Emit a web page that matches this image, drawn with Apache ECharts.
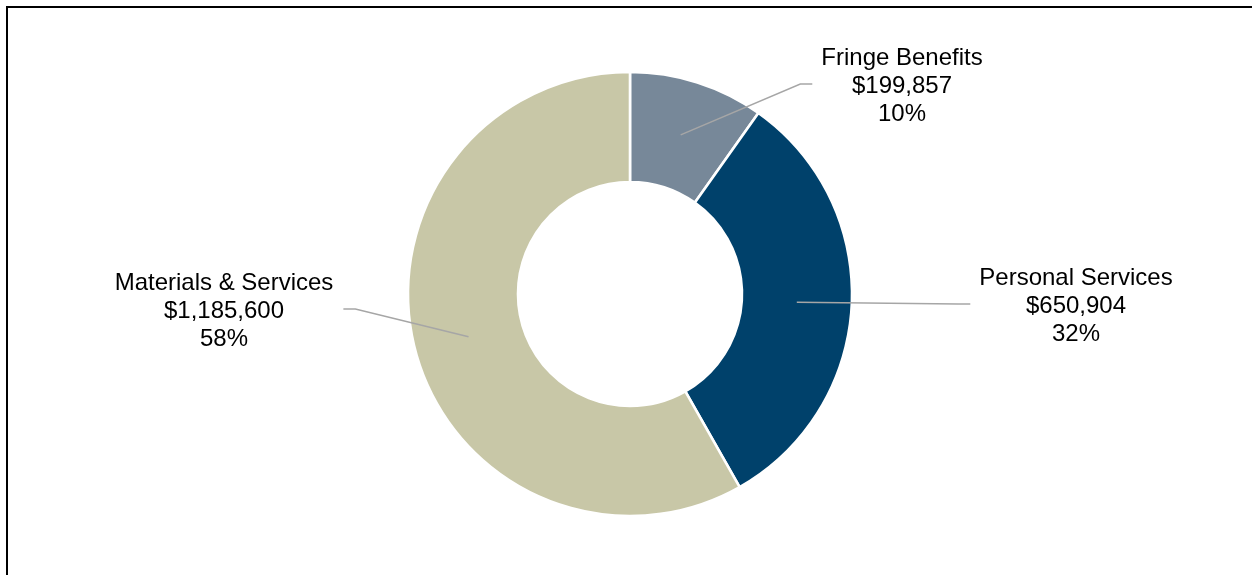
<!DOCTYPE html>
<html>
<head>
<meta charset="utf-8">
<script src="https://cdn.jsdelivr.net/npm/echarts@6/dist/echarts.min.js"></script>
<style>
html, body { margin: 0; padding: 0; background: #fff; overflow: hidden; }
#wrap { position: relative; width: 1252px; height: 575px; overflow: hidden; }
#chart { width: 1252px; height: 575px; }
#frame { position: absolute; left: 6px; top: 6px; width: 1400px; height: 800px; border: 2px solid #000; pointer-events: none; }
</style>
</head>
<body>
<div id="wrap">
	<div id="chart"></div>
	<div id="frame"></div>
</div>
<script>
const categories = ['Fringe Benefits', 'Personal Services', 'Materials & Services']
const amounts = [199857, 650904, 1185600]
const sliceColors = ['#778899', '#00416B', '#C8C7A7']
// centre of each label block (layout only)
const labelSpots = [[902, 86], [1076, 306], [224, 311]]

const center = [630, 294]

let chart = echarts.init(document.getElementById('chart'))

let pieData = categories.map((name, i) => ({
	name: name,
	value: amounts[i],
	itemStyle: { color: sliceColors[i] },
}))

let option = {
	animation: false,
	series: [
		{
			type: 'pie',
			center: center,
			radius: [112, 222],
			startAngle: 90,
			clockwise: true,
			silent: true,
			avoidLabelOverlap: false,
			itemStyle: {
				borderColor: '#fff',
				borderWidth: 2.6,
			},
			label: { show: false },
			labelLine: { show: false },
			data: pieData,
		},
		{
			// invisible ring, only used so the leader lines start mid-ring
			type: 'pie',
			center: center,
			radius: [0, 167],
			startAngle: 90,
			clockwise: true,
			silent: true,
			z: 5,
			avoidLabelOverlap: false,
			itemStyle: { color: 'rgba(0,0,0,0)', borderWidth: 0 },
			label: {
				show: true,
				position: 'outside',
				color: '#000',
				fontFamily: '"Liberation Sans", Arial, sans-serif',
				fontSize: 24,
				lineHeight: 28,
				align: 'center',
				formatter: (p) =>
					p.name + '\n$' + p.value.toLocaleString('en-US') + '\n' + Math.round(p.percent) + '%',
			},
			labelLine: {
				show: true,
				length: 20,
				length2: 12,
				lineStyle: { color: '#A6A6A6', width: 1.5 },
			},
			labelLayout: (params) => {
				let spot = labelSpots[params.dataIndex]
				let w = params.labelRect.width
				let onRight = spot[0] > center[0]
				let endX = onRight ? spot[0] - w / 2 - 9 : spot[0] + w / 2 + 10
				let endY = spot[1] - 2
				let start = params.labelLinePoints[0]
				let elbowX = onRight ? endX - 12 : endX + 12
				return {
					x: spot[0],
					y: spot[1],
					align: 'center',
					verticalAlign: 'middle',
					labelLinePoints: [start, [elbowX, endY], [endX, endY]],
				}
			},
			data: categories.map((name, i) => ({ name: name, value: amounts[i] })),
		},
	],
}

chart.setOption(option)
window.addEventListener('resize', chart.resize)
</script>
</body>
</html>
